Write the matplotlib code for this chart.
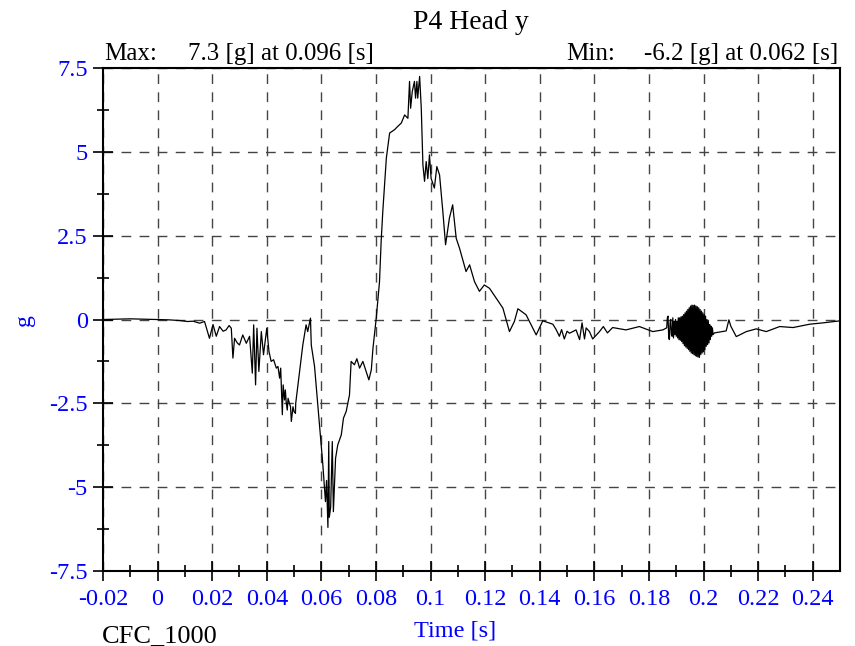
import numpy as np
import matplotlib.pyplot as plt

plt.rcParams['font.family'] = ['Liberation Serif', 'DejaVu Serif']

# values (time in s, acceleration in g)
pre_t = [-0.020, -0.015, -0.010, -0.005, 0.000, 0.004, 0.008, 0.011, 0.013, 0.0154,
         0.0172, 0.0190, 0.0203, 0.0215, 0.0227, 0.0240, 0.0251, 0.0262, 0.0270, 0.0276,
         0.0282, 0.0292, 0.0300, 0.0312, 0.0325, 0.0337, 0.0347, 0.0352, 0.0359, 0.0364,
         0.0371, 0.0380, 0.0388, 0.0400, 0.0408, 0.0416, 0.0425, 0.0435, 0.0441, 0.0447,
         0.0451, 0.0457, 0.0460, 0.0465, 0.0468, 0.0471, 0.0475, 0.0478, 0.0483, 0.0487,
         0.0490, 0.0496, 0.0500, 0.0505, 0.0506]
pre_g = [0.00, 0.01, 0.02, 0.01, 0.00, -0.01, -0.03, -0.06, -0.05, -0.11,
         -0.06, -0.56, -0.15, -0.50, -0.21, -0.35, -0.31, -0.18, -0.26, -1.15,
         -0.56, -0.70, -0.76, -0.46, -0.71, -0.50, -1.60, -0.16, -1.95, -0.26,
         -1.55, -0.36, -1.05, -0.26, -0.95, -1.25, -1.20, -1.45, -1.40, -1.75,
         -1.45, -2.84, -1.95, -2.40, -2.10, -2.45, -2.70, -2.35, -2.50, -2.60,
         -3.04, -2.60, -2.75, -2.80, -2.50]

pulse_t = [0.0532, 0.0544, 0.0550, 0.0560, 0.0563, 0.0575, 0.0593, 0.0605, 0.0615, 0.0619,
           0.0624, 0.0627, 0.0629, 0.0634, 0.0640, 0.0644, 0.0652, 0.0660, 0.0673, 0.0681,
           0.0691, 0.0703, 0.0709, 0.0721, 0.0730, 0.0740, 0.0752, 0.0764, 0.0774, 0.0783,
           0.0789, 0.0801, 0.0813, 0.0819, 0.0825, 0.0838, 0.0850, 0.0868, 0.0880, 0.0893,
           0.0905, 0.0917, 0.0923, 0.0927, 0.0933, 0.0941, 0.0945, 0.0950, 0.0953, 0.0960,
           0.0966, 0.0972, 0.0978, 0.0984, 0.0990, 0.0996, 0.1002, 0.1014, 0.1023, 0.1033]
pulse_g = [-0.76, -0.16, -0.36, 0.04, -0.76, -1.40, -3.14, -4.29, -5.43, -4.80,
           -6.20, -3.64, -5.90, -5.60, -3.64, -5.73, -4.14, -3.74, -3.44, -2.94,
           -2.74, -2.25, -1.25, -1.35, -1.17, -1.45, -1.25, -1.55, -1.80, -1.50,
           -0.86, 0.04, 1.13, 2.33, 3.22, 4.81, 5.56, 5.66, 5.76, 5.86,
           6.10, 6.00, 7.10, 6.30, 6.80, 7.10, 6.60, 7.10, 6.60, 7.25,
           6.30, 4.61, 4.12, 4.71, 4.20, 4.91, 4.21, 3.92, 4.56, 4.31]

decay_t = [0.1045, 0.1055, 0.1069, 0.1081, 0.1094, 0.1106, 0.1130, 0.1143, 0.1161, 0.1179,
           0.1197, 0.1216, 0.1240, 0.1265, 0.1289, 0.1307, 0.1320, 0.1350, 0.1387, 0.1411,
           0.1448, 0.1460, 0.1472, 0.1480, 0.1490, 0.1500, 0.1509, 0.1533, 0.1546, 0.1555,
           0.1564, 0.1570, 0.1582, 0.1594, 0.1619, 0.1633, 0.1648, 0.1667, 0.1716, 0.1765,
           0.1814, 0.1851]
decay_g = [3.22, 2.23, 3.02, 3.42, 2.42, 2.13, 1.43, 1.63, 1.13, 0.84,
           1.03, 0.93, 0.64, 0.34, -0.36, -0.06, 0.32, 0.14, -0.46, -0.04,
           -0.14, -0.30, -0.50, -0.30, -0.58, -0.35, -0.41, -0.31, -0.60, -0.10,
           -0.58, -0.25, -0.36, -0.58, -0.36, -0.21, -0.40, -0.24, -0.31, -0.21,
           -0.36, -0.31]

burst_t = [0.18650, 0.18675, 0.18700, 0.18725, 0.18750, 0.18775, 0.18800, 0.18825, 0.18850, 0.18875,
           0.18900, 0.18925, 0.18950, 0.18975, 0.19000, 0.19025, 0.19050, 0.19075, 0.19100, 0.19125,
           0.19150, 0.19175, 0.19200, 0.19225, 0.19250, 0.19275, 0.19300, 0.19325, 0.19350, 0.19375,
           0.19400, 0.19425, 0.19450, 0.19475, 0.19500, 0.19525, 0.19550, 0.19575, 0.19600, 0.19625,
           0.19650, 0.19675, 0.19700, 0.19725, 0.19750, 0.19775, 0.19800, 0.19825, 0.19850, 0.19875,
           0.19900, 0.19925, 0.19950, 0.19975, 0.20000, 0.20025, 0.20050, 0.20075, 0.20100, 0.20125,
           0.20150, 0.20175, 0.20200, 0.20225, 0.20250, 0.20275, 0.20300, 0.20325, 0.20350, 0.20400]
burst_g = [-0.25, 0.05, 0.10, -0.55, -0.60, -0.10, 0.00, -0.45, -0.50, 0.05,
           -0.55, -0.05, -0.45, 0.00, -0.50, -0.05, -0.55, 0.05, -0.60, 0.05,
           -0.62, 0.08, -0.66, 0.10, -0.72, 0.15, -0.78, 0.20, -0.82, 0.25,
           -0.86, 0.30, -0.90, 0.35, -0.95, 0.40, -1.00, 0.43, -1.02, 0.42,
           -1.05, 0.43, -1.08, 0.40, -1.10, 0.38, -1.12, 0.35, -1.13, 0.30,
           -1.05, 0.25, -1.00, 0.20, -0.96, 0.15, -0.90, 0.10, -0.80, 0.00,
           -0.75, -0.05, -0.70, -0.15, -0.60, -0.20, -0.50, -0.25, -0.45, -0.40]

tail_t = [0.2083, 0.2093, 0.2100, 0.2120, 0.2157, 0.2193, 0.2230, 0.2279, 0.2328, 0.2389,
          0.2438, 0.2487, 0.2500]
tail_g = [-0.34, -0.01, -0.20, -0.51, -0.36, -0.28, -0.36, -0.21, -0.24, -0.14,
          -0.10, -0.05, -0.04]

t = np.concatenate([pre_t, pulse_t, decay_t, burst_t, tail_t])
g = np.concatenate([pre_g, pulse_g, decay_g, burst_g, tail_g])

x_ticks = [-0.02, 0, 0.02, 0.04, 0.06, 0.08, 0.1, 0.12, 0.14, 0.16, 0.18, 0.2, 0.22, 0.24]
x_labels = ['-0.02', '0', '0.02', '0.04', '0.06', '0.08', '0.1', '0.12', '0.14', '0.16',
            '0.18', '0.2', '0.22', '0.24']
y_ticks = [-7.5, -5, -2.5, 0, 2.5, 5, 7.5]
y_labels = ['-7.5', '-5', '-2.5', '0', '2.5', '5', '7.5']

blue = '#0000ff'
W, H = 855, 646

fig = plt.figure(figsize=(W / 100, H / 100), dpi=100)
ax = fig.add_axes([103 / W, 1 - 571 / H, 737 / W, 503 / H])

ax.plot(t, g, color='black', lw=0.9)

ax.set_xlim(-0.02, 0.25)
ax.set_ylim(-7.5, 7.5)
ax.set_xticks(x_ticks)
ax.set_xticklabels(x_labels)
ax.set_xticks(np.arange(-0.01, 0.25, 0.02), minor=True)
ax.set_yticks(y_ticks)
ax.set_yticklabels(y_labels)
ax.set_yticks(np.arange(-6.25, 7.5, 2.5), minor=True)

ax.tick_params(which='major', direction='inout', length=14, width=1.2,
               labelsize=17.5, labelcolor=blue)
ax.tick_params(axis='x', which='major', pad=6)
ax.tick_params(axis='y', which='major', pad=4)
ax.tick_params(which='minor', direction='inout', length=8, width=1.2)
ax.tick_params(top=False, right=False)

ax.grid(True, which='major', color='#444444', lw=1.0, ls=(0, (7, 6)))
for s in ax.spines.values():
    s.set_linewidth(1.5)

# axis titles and annotations, placed in figure pixels
fig.text(455 / W, 1 - 637 / H, 'Time [s]', color=blue, fontsize=17.5, ha='center')
fig.text(25 / W, 1 - 320 / H, 'g', color=blue, fontsize=17, rotation=90,
         ha='center', va='center')
fig.text(471 / W, 1 - 29 / H, 'P4 Head y', ha='center', fontsize=20)
fig.text(104 / W, 1 - 60 / H, 'Max:', fontsize=18)
fig.text(188 / W, 1 - 60 / H, '7.3 [g] at 0.096 [s]', fontsize=18)
fig.text(566 / W, 1 - 60 / H, 'Min:', fontsize=18)
fig.text(838 / W, 1 - 60 / H, '-6.2 [g] at 0.062 [s]', fontsize=18, ha='right')
fig.text(102 / W, 1 - 642 / H, 'CFC_1000', fontsize=19)

plt.savefig('out.png', dpi=100)
